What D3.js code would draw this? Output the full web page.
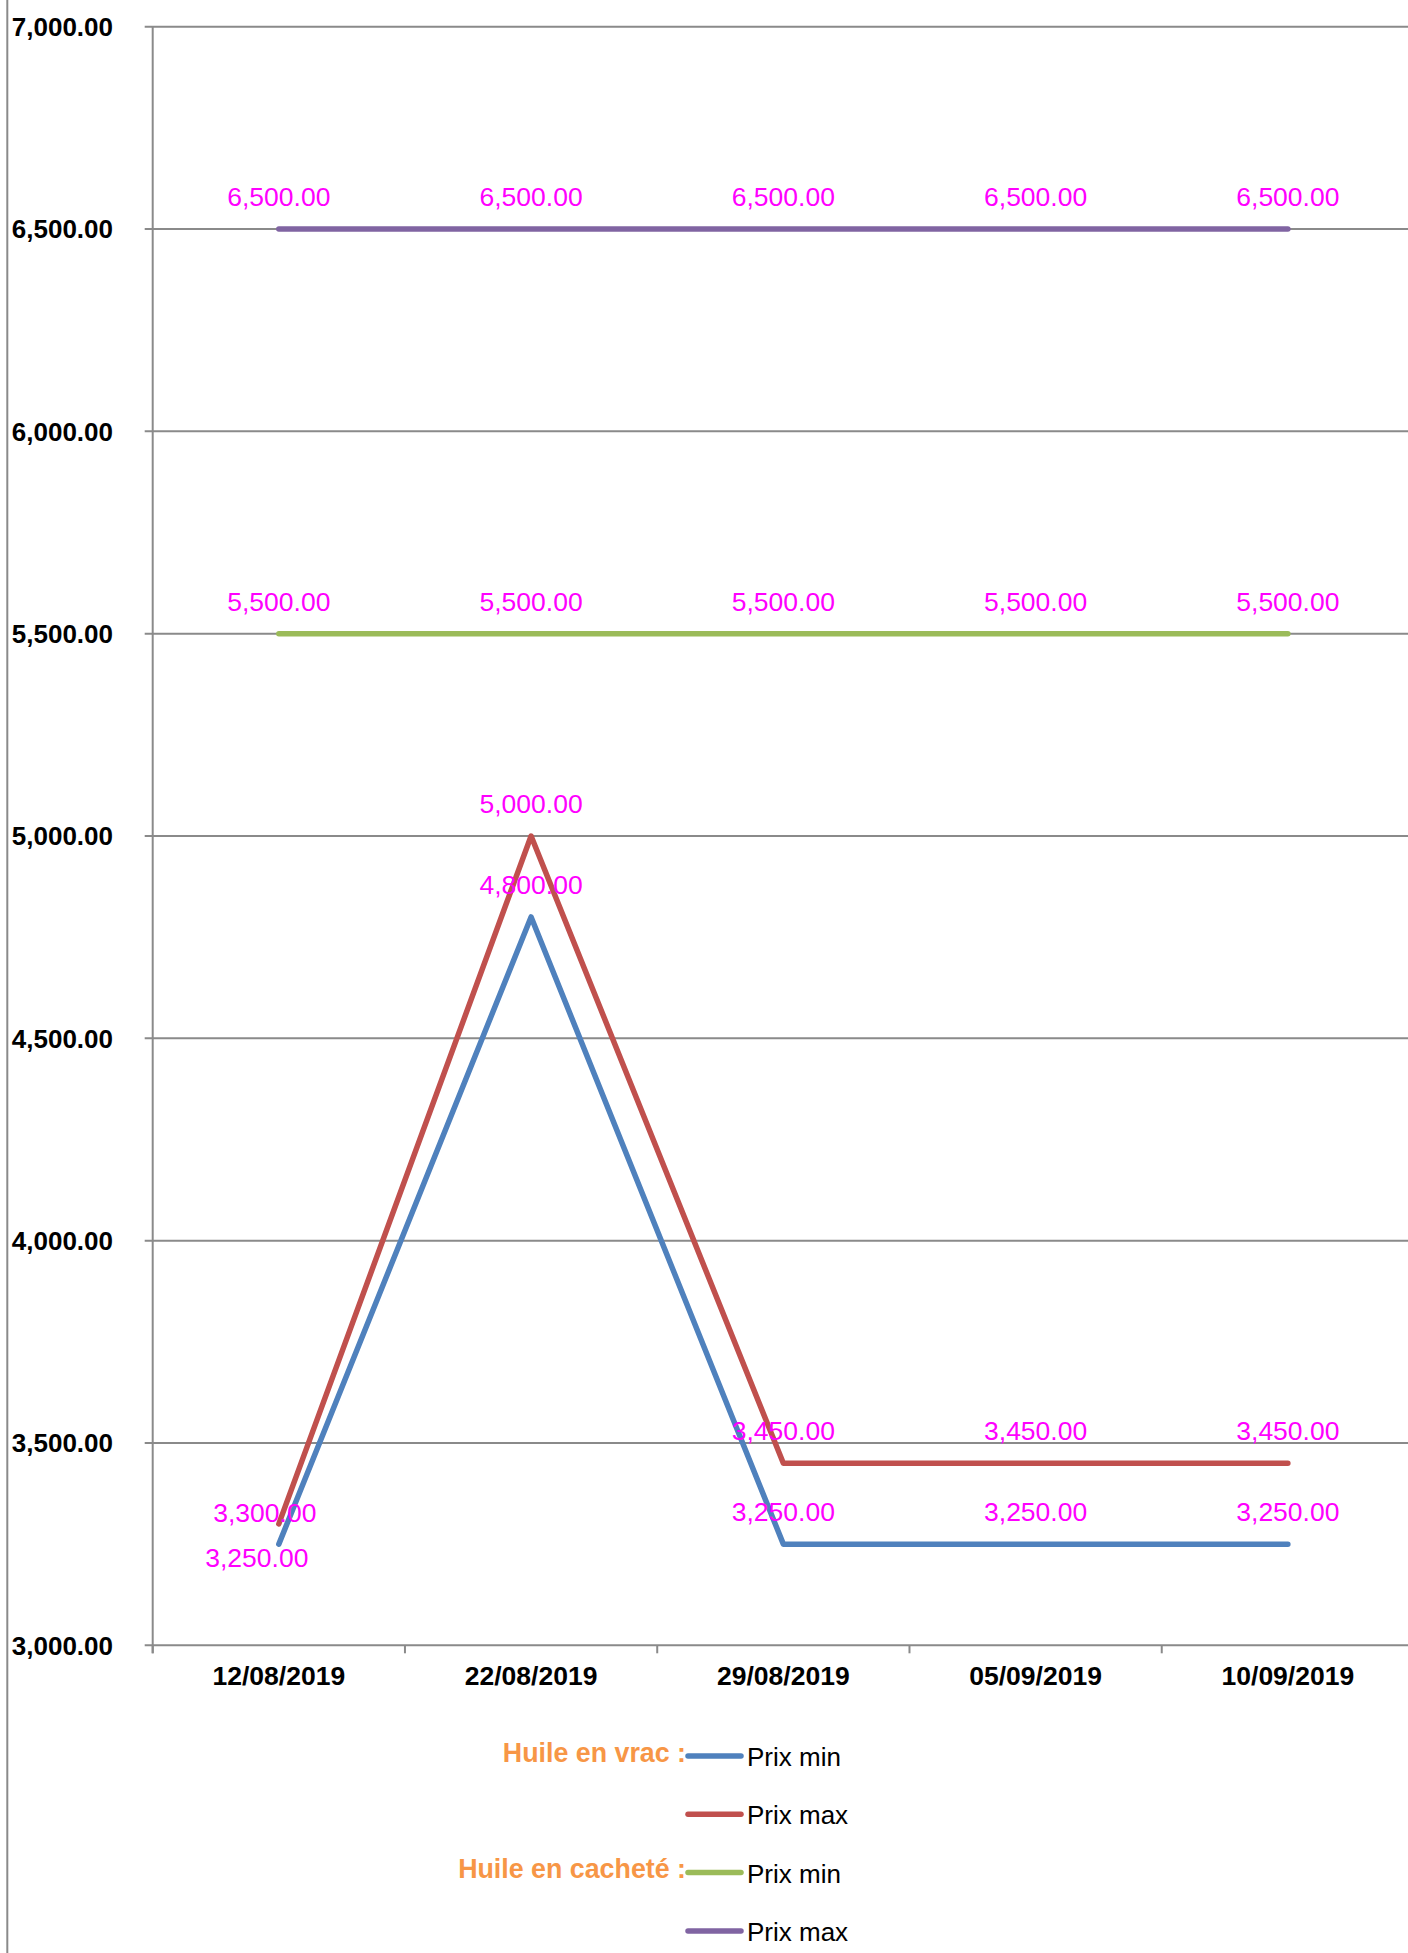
<!DOCTYPE html>
<html>
<head>
<meta charset="utf-8">
<script src="https://cdn.jsdelivr.net/npm/d3@7"></script>
<style>
  html, body { margin: 0; padding: 0; background: #fff; }
  svg { display: block; font-family: "Liberation Sans", Arial, sans-serif; }
</style>
</head>
<body>
<svg id="chart" width="1408" height="1953"></svg>
<script>
// ---- data ----
const categories = ["12/08/2019", "22/08/2019", "29/08/2019", "05/09/2019", "10/09/2019"];
const vracMin    = [3250, 4800, 3250, 3250, 3250];
const vracMax    = [3300, 5000, 3450, 3450, 3450];
const cacheteMin = [5500, 5500, 5500, 5500, 5500];
const cacheteMax = [6500, 6500, 6500, 6500, 6500];
const yTicks     = [3000, 3500, 4000, 4500, 5000, 5500, 6000, 6500, 7000];
const groupNames = ["Huile en vrac :", "", "Huile en cacheté :", ""];
const seriesNames = ["Prix min", "Prix max", "Prix min", "Prix max"];

(function () {
// ---- setup ----
const colors = ["#4F81BD", "#C0504D", "#9BBB59", "#8064A2"];
const seriesValues = [vracMin, vracMax, cacheteMin, cacheteMax];
const series = seriesValues.map((vals, i) => ({
  name: seriesNames[i], group: groupNames[i], color: colors[i],
  points: vals.map((v, j) => ({ cat: categories[j], v, j }))
}));

const svg = d3.select("#chart");
const mLeft = 152.7, mRight = 1414, mTop = 26.7, mBottom = 1645.3;
const x = d3.scaleBand().domain(categories).range([mLeft, mRight]);
const y = d3.scaleLinear().domain([3000, 7000]).range([mBottom, mTop]);
const cx = c => x(c) + x.bandwidth() / 2;
const fmt = d3.format(",.2f");
const gridColor = "#8a8a8a";

// outer left border line
svg.append("line").attr("x1", 7.3).attr("x2", 7.3).attr("y1", 0).attr("y2", 1953)
  .attr("stroke", gridColor).attr("stroke-width", 2);

// gridlines
svg.append("g").selectAll("line").data(yTicks).join("line")
  .attr("x1", mLeft - 8).attr("x2", mRight)
  .attr("y1", d => y(d)).attr("y2", d => y(d))
  .attr("stroke", gridColor).attr("stroke-width", 2);

// y axis line
svg.append("line").attr("x1", mLeft).attr("x2", mLeft).attr("y1", mTop).attr("y2", mBottom + 8)
  .attr("stroke", gridColor).attr("stroke-width", 2);

// y labels
svg.append("g").selectAll("text").data(yTicks).join("text")
  .attr("x", 113).attr("y", d => y(d)).attr("dy", "0.36em")
  .attr("text-anchor", "end").attr("font-size", 26).attr("font-weight", "bold")
  .attr("fill", "#000").text(d => fmt(d));

// x ticks (band boundaries)
const bounds = categories.map(c => x(c)).concat([x(categories[categories.length - 1]) + x.bandwidth()]);
svg.append("g").selectAll("line").data(bounds).join("line")
  .attr("x1", d => d).attr("x2", d => d).attr("y1", mBottom).attr("y2", mBottom + 8)
  .attr("stroke", gridColor).attr("stroke-width", 2);

// x labels
svg.append("g").selectAll("text").data(categories).join("text")
  .attr("x", d => cx(d)).attr("y", 1685)
  .attr("text-anchor", "middle").attr("font-size", 26.5).attr("font-weight", "bold")
  .attr("fill", "#000").text(d => d);

// lines
const line = d3.line().x(d => cx(d.cat)).y(d => y(d.v));
svg.append("g").selectAll("path").data(series).join("path")
  .attr("d", d => line(d.points))
  .attr("fill", "none").attr("stroke", d => d.color).attr("stroke-width", 5.5)
  .attr("stroke-linecap", "round").attr("stroke-linejoin", "round");

// data labels
function labelOffset(si, j) {
  if (j === 0 && si === 0) return [-22, 23];   // below-left
  if (j === 0 && si === 1) return [-14, -2];   // left
  return [0, -23];                             // above
}
const labels = [];
series.forEach((s, si) => s.points.forEach(p => labels.push({ si, p })));
svg.append("g").selectAll("text").data(labels).join("text")
  .attr("x", d => cx(d.p.cat) + labelOffset(d.si, d.p.j)[0])
  .attr("y", d => y(d.p.v) + labelOffset(d.si, d.p.j)[1])
  .attr("text-anchor", "middle").attr("font-size", 26.5)
  .attr("fill", "#FF00FF").text(d => fmt(d.p.v));

// legend
const leg = svg.append("g").selectAll("g").data(series).join("g")
  .attr("transform", (d, i) => `translate(0, ${1756 + i * 58.3})`);
leg.append("line").attr("x1", 688).attr("x2", 741).attr("y1", 0).attr("y2", 0)
  .attr("stroke", d => d.color).attr("stroke-width", 5.5).attr("stroke-linecap", "round");
leg.append("text").attr("x", 747).attr("y", 10)
  .attr("font-size", 26).attr("fill", "#000").text(d => d.name);
leg.append("text").attr("x", 686).attr("y", 5.5).attr("text-anchor", "end")
  .attr("font-size", 26.8).attr("font-weight", "bold").attr("fill", "#F79646")
  .text(d => d.group);
})();
</script>
</body>
</html>
